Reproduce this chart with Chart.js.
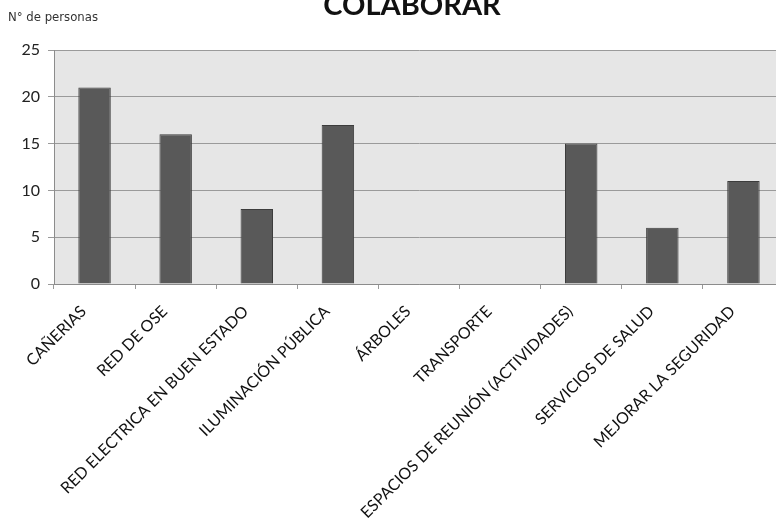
<!DOCTYPE html>
<html>
<head>
<meta charset="utf-8">
<script src="https://cdn.jsdelivr.net/npm/chart.js@4"></script>
<style>
  html, body { margin: 0; padding: 0; background: #fff; overflow: hidden; }
  #wrap { width: 784px; height: 520px; }
</style>
</head>
<body>
<div id="wrap"><canvas id="chart" width="784" height="520"></canvas></div>
<script>
const categories = [
    'CAÑERIAS',
    'RED DE OSE',
    'RED ELECTRICA EN BUEN ESTADO',
    'ILUMINACIÓN PÚBLICA',
    'ÁRBOLES',
    'TRANSPORTE',
    'ESPACIOS DE REUNIÓN (ACTIVIDADES)',
    'SERVICIOS DE SALUD',
    'MEJORAR LA SEGURIDAD'
];
const personas = [21, 16, 8, 17, 0, 0, 15, 6, 11];
const yTicks = [0, 5, 10, 15, 20, 25];
const chartTitle = 'COLABORAR';
const yTitle = 'N° de personas';

// grey plot background + title texts
const decorations = {
    id: 'decorations',
    beforeDraw(chart) {
        const { ctx, chartArea } = chart;
        ctx.save();
        ctx.fillStyle = '#e6e6e6';
        ctx.fillRect(chartArea.left, chartArea.top, chartArea.right - chartArea.left, chartArea.bottom - chartArea.top);
        ctx.restore();
    },
    afterDraw(chart) {
        const ctx = chart.ctx;
        ctx.save();
        ctx.fillStyle = '#111';
        ctx.font = 'bold 29px Lato, "Open Sans", sans-serif';
        ctx.textAlign = 'center';
        ctx.textBaseline = 'alphabetic';
        ctx.fillText(chartTitle, 412, 15);
        ctx.fillStyle = '#333';
        ctx.font = '13px "Liberation Sans Narrow", "DejaVu Sans Condensed", sans-serif';
        ctx.textAlign = 'left';
        ctx.textBaseline = 'middle';
        ctx.fillText(yTitle, 8, 18);
        ctx.restore();
    }
};

new Chart(document.getElementById('chart'), {
    type: 'bar',
    data: {
        labels: categories,
        datasets: [{
            label: yTitle,
            data: personas,
            backgroundColor: '#595959',
            borderColor: '#3c3c3c',
            borderWidth: 1,
            barPercentage: 0.4,
            categoryPercentage: 1
        }]
    },
    options: {
        responsive: false,
        animation: false,
        layout: { padding: { top: 50, right: 0, left: 0, bottom: 0 } },
        plugins: {
            legend: { display: false },
            tooltip: { enabled: false }
        },
        scales: {
            x: {
                afterFit(scale) { scale.height = 236; },
                grid: {
                    offset: true,
                    drawOnChartArea: false,
                    tickLength: 5,
                    color: '#999'
                },
                border: { color: '#8c8c8c', width: 1 },
                ticks: {
                    autoSkip: false,
                    minRotation: 45,
                    maxRotation: 45,
                    padding: 13,
                    labelOffset: -11,
                    color: '#111',
                    font: { family: 'Lato, "Open Sans", sans-serif', size: 16 }
                }
            },
            y: {
                min: 0,
                max: 25,
                afterFit(scale) { scale.width = 54; },
                afterBuildTicks(scale) { scale.ticks = yTicks.map(v => ({ value: v })); },
                grid: {
                    color: '#9a9a9a',
                    tickLength: 6
                },
                border: { color: '#8c8c8c', width: 1 },
                ticks: {
                    color: '#222',
                    padding: 8,
                    font: { family: 'Lato, "Open Sans", sans-serif', size: 16 }
                }
            }
        }
    },
    plugins: [decorations]
});
</script>
</body>
</html>
